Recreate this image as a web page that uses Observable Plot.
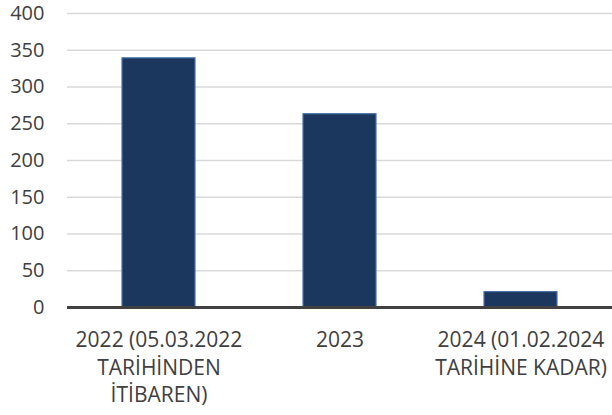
<!DOCTYPE html>
<html>
<head>
<meta charset="utf-8">
<script src="https://cdn.jsdelivr.net/npm/d3@7"></script>
<script src="https://cdn.jsdelivr.net/npm/@observablehq/plot@0.6"></script>
<style>
html, body { margin: 0; padding: 0; background: #fff; }
</style>
</head>
<body>
<div id="chart"></div>
<script>
const categories = ["2022 (05.03.2022\nTARİHİNDEN\nİTİBAREN)", "2023", "2024 (01.02.2024\nTARİHİNE KADAR)"];
const values = [339, 263, 21];
const yTicks = [0, 50, 100, 150, 200, 250, 300, 350, 400];

const data = categories.map((c, i) => ({category: c, value: values[i]}));

const chart = Plot.plot({
  width: 612,
  height: 415,
  marginLeft: 67,
  marginRight: 0,
  marginTop: 13,
  marginBottom: 108,
  style: {fontFamily: "'Open Sans', sans-serif", fontSize: "20px", color: "#404040", background: "#fff"},
  x: {domain: categories, paddingInner: 0.595, paddingOuter: 0.2975, label: null},
  y: {domain: [0, 400], label: null},
  marks: [
    Plot.gridY(yTicks, {stroke: "#d9d9d9", strokeOpacity: 1, strokeWidth: 1.5}),
    Plot.axisY(yTicks, {tickSize: 0, tickPadding: 23, fontSize: 20, fill: "#404040", label: null}),
    Plot.barY(data, {x: "category", y: "value", fill: "#1c375e", stroke: "#4a72a8", strokeWidth: 1.2}),
    Plot.ruleY([0], {stroke: "#404040", strokeWidth: 3}),
    Plot.axisX({tickSize: 0, tickPadding: 20, fontSize: 21, fill: "#404040", lineHeight: 1.31, label: null})
  ]
});
document.getElementById("chart").appendChild(chart);
</script>
</body>
</html>
